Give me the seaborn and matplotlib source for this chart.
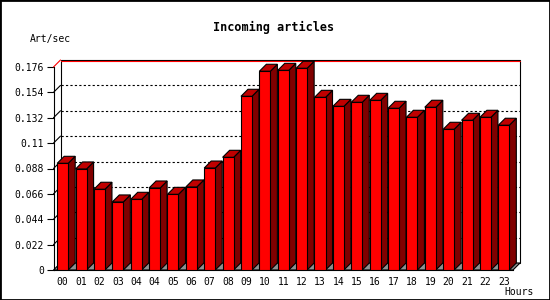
# Incoming articles per hour, pseudo-3D bar chart
import matplotlib
matplotlib.use('Agg')
import matplotlib.pyplot as plt
import matplotlib.transforms as mtransforms
from matplotlib.patches import Polygon, Rectangle
import pandas as pd
import seaborn as sns

# data (hour 04 appears twice)
hours = ['00', '01', '02', '03', '04', '04', '05', '06', '07', '08', '09', '10',
         '11', '12', '13', '14', '15', '16', '17', '18', '19', '20', '21', '22', '23']
rates = [0.0925, 0.0876, 0.0700, 0.0590, 0.0613, 0.0711, 0.0656, 0.0720, 0.0884,
         0.0977, 0.1506, 0.1723, 0.1731, 0.1749, 0.1497, 0.1419, 0.1454, 0.1471,
         0.1402, 0.1324, 0.1411, 0.1220, 0.1298, 0.1324, 0.1255]
yticks = [0, 0.022, 0.044, 0.066, 0.088, 0.11, 0.132, 0.154, 0.176]
ytick_labels = ['0', '0.022', '0.044', '0.066', '0.088', '0.11', '0.132', '0.154', '0.176']

df = pd.DataFrame({'slot': range(len(rates)), 'rate': rates})

sns.set_style('white')
plt.rcParams['font.family'] = ['DejaVu Sans Mono']
plt.rcParams['font.size'] = 7
plt.rcParams['text.color'] = 'black'
plt.rcParams['xtick.color'] = 'black'
plt.rcParams['ytick.color'] = 'black'
plt.rcParams['axes.labelcolor'] = 'black'

fig = plt.figure(figsize=(5.5, 3), dpi=100)
W, H = 550, 300
ax = fig.add_axes([53.5 / W, 30 / H, (513 - 53.5) / W, 203 / H])

sns.barplot(data=df, x='slot', y='rate', color='#ff0000', saturation=1,
            width=0.6, edgecolor='black', linewidth=0.8, ax=ax)
bars = list(ax.patches)

ax.set_xlim(-0.5, len(rates) - 0.5)
ax.set_ylim(0, 0.176)
ax.set_xlabel('')
ax.set_ylabel('')
ax.set_yticks(yticks)
ax.set_yticklabels(ytick_labels)
ax.set_xticks(range(len(hours)))
ax.set_xticklabels(hours)
ax.set_xticks([k - 0.5 for k in range(len(hours) + 1)], minor=True)
ax.tick_params(axis='x', which='major', length=0, pad=5, labelcolor='black')
ax.tick_params(axis='x', which='minor', length=4, width=0.8, direction='out', color='black')
ax.tick_params(axis='y', length=5, width=0.8, direction='out', color='black', pad=2,
               left=True, labelcolor='black')
ax.patch.set_visible(False)
for s in ['top', 'right']:
    ax.spines[s].set_visible(False)
for s in ['left', 'bottom']:
    ax.spines[s].set_color('black')
    ax.spines[s].set_linewidth(0.8)

dx, dy = 7, 7
ident = mtransforms.IdentityTransform()
fig.canvas.draw()


def disp(x, y):
    return ax.transData.transform((x, y))


# back wall
x0w, y0w = ax.transAxes.transform((0, 0))
x1w, y1w = ax.transAxes.transform((1, 1))
ax.add_patch(Rectangle((x0w + dx, y0w + dy), x1w - x0w, y1w - y0w, transform=ident,
                       facecolor='white', edgecolor='black', linewidth=0.8,
                       zorder=0.5, clip_on=False))
# floor
ax.add_patch(Polygon([(x0w, y0w), (x1w, y0w), (x1w + dx, y0w + dy), (x0w + dx, y0w + dy)],
                     closed=True, transform=ident, facecolor='#909090', edgecolor='black',
                     linewidth=0.8, zorder=0.6, clip_on=False))

# back grid lines and left diagonals
for v in yticks[1:]:
    px, py = disp(-0.5, v)
    col = 'red' if v == yticks[-1] else 'black'
    ls = '-' if v == yticks[-1] else (0, (2, 2))
    off = dy - 1 if v == yticks[-1] else dy
    ax.add_line(plt.Line2D([x0w + dx, x1w + dx], [py + off, py + off], transform=ident,
                           color=col, linestyle=ls, linewidth=0.8, zorder=0.7, clip_on=False))
    ax.add_line(plt.Line2D([x0w, x0w + dx], [py, py + dy], transform=ident,
                           color=col, linewidth=0.8, zorder=0.7, clip_on=False))

# side and top faces of each bar
for p in bars:
    p.set_zorder(3)
    bx0 = p.get_x()
    bx1 = bx0 + p.get_width()
    h = p.get_height()
    b = disp(bx1, 0)
    c = disp(bx1, h)
    d = disp(bx0, h)
    side = [(b[0], b[1]), (b[0] + dx, b[1] + dy), (c[0] + dx, c[1] + dy), (c[0], c[1])]
    top = [(d[0], d[1]), (c[0], c[1]), (c[0] + dx, c[1] + dy), (d[0] + dx, d[1] + dy)]
    ax.add_patch(Polygon(side, closed=True, transform=ident, facecolor='#800000',
                         edgecolor='black', linewidth=0.8, zorder=2.5, clip_on=False))
    ax.add_patch(Polygon(top, closed=True, transform=ident, facecolor='#c00000',
                         edgecolor='black', linewidth=0.8, zorder=2.5, clip_on=False))

fig.text(274 / W, 1 - 27 / H, 'Incoming articles', ha='center', va='center',
         fontsize=8.5, fontweight='bold')
fig.text(30 / W, 1 - 39 / H, 'Art/sec', ha='left', va='center')
fig.text(504 / W, 1 - 292 / H, 'Hours', ha='left', va='center')

fig.patches.append(Rectangle((0, 0), 1, 1, transform=fig.transFigure, fill=False,
                             edgecolor='black', linewidth=2))

fig.savefig('out.png', dpi=100)
